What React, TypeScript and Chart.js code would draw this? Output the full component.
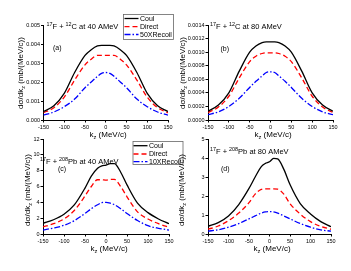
import React, { useEffect, useRef } from 'react';
import { Chart, registerables } from 'chart.js';
Chart.register(...registerables);

// ---- data ----
const kz = [-150, -125, -100, -75, -50, -35, -20, -10, 0, 10, 20, 35, 50, 75, 100, 125, 150];

const coulA = [0.00045, 0.00075, 0.0014, 0.0025, 0.0034, 0.0037, 0.0039, 0.00393, 0.00393, 0.00393, 0.0039, 0.0037, 0.0034, 0.0025, 0.0014, 0.00075, 0.00045];
const directA = [0.00038, 0.00065, 0.0012, 0.0021, 0.0029, 0.0032, 0.0034, 0.0034, 0.0034, 0.0034, 0.0034, 0.0032, 0.0029, 0.0021, 0.0012, 0.00065, 0.00038];
const recoilA = [0.00026, 0.00042, 0.0007, 0.0011, 0.0017, 0.002, 0.0023, 0.00245, 0.0025, 0.00245, 0.0023, 0.002, 0.0017, 0.0011, 0.0007, 0.00042, 0.00026];

const coulB = [0.00013, 0.00022, 0.0004, 0.00072, 0.001, 0.00109, 0.00114, 0.00115, 0.00115, 0.00115, 0.00114, 0.00109, 0.001, 0.00072, 0.0004, 0.00022, 0.00013];
const directB = [0.00011, 0.00019, 0.00035, 0.00062, 0.00086, 0.00094, 0.00098, 0.00099, 0.00099, 0.00099, 0.00098, 0.00094, 0.00086, 0.00062, 0.00035, 0.00019, 0.00011];
const recoilB = [0.00008, 0.00012, 0.0002, 0.00032, 0.00048, 0.00057, 0.00065, 0.0007, 0.00071, 0.0007, 0.00065, 0.00057, 0.00048, 0.00032, 0.0002, 0.00012, 0.00008];

const coulC = [1.35, 1.8, 2.5, 3.7, 5.8, 7.3, 8.3, 8.6, 8.7, 8.9, 8.9, 7.8, 6.2, 3.9, 2.7, 1.9, 1.3];
const directC = [0.9, 1.3, 1.9, 3.0, 4.8, 6.0, 6.85, 6.85, 6.8, 6.9, 6.9, 6.0, 4.7, 2.8, 1.9, 1.3, 0.85];
const recoilC = [0.5, 0.75, 1.1, 1.7, 2.6, 3.2, 3.7, 3.95, 4.0, 3.9, 3.7, 3.2, 2.6, 1.7, 1.05, 0.72, 0.5];

const coulD = [0.4, 0.6, 0.95, 1.55, 2.4, 3.0, 3.55, 3.72, 3.8, 3.98, 3.95, 3.4, 2.6, 1.6, 1.05, 0.65, 0.38];
const directD = [0.25, 0.42, 0.7, 1.1, 1.65, 2.1, 2.35, 2.38, 2.38, 2.38, 2.36, 2.1, 1.6, 1.05, 0.65, 0.4, 0.25];
const recoilD = [0.15, 0.22, 0.36, 0.55, 0.8, 0.95, 1.1, 1.16, 1.18, 1.16, 1.1, 0.95, 0.8, 0.55, 0.36, 0.22, 0.15];

const seriesNames = ['Coul', 'Direct'];
const recoilNameA = '50XRecoil';
const recoilNameC = '10XRecoil';

const FONT = '"Liberation Sans", Arial, sans-serif';
const W = 351;
const H = 271;
const Y_BOX = 26; // width reserved for y-axis tick labels
const X_BOX = 10; // height reserved for x-axis tick labels

type Seg = { t: string; s?: 'sup' | 'sub' };

function drawRich(ctx: CanvasRenderingContext2D, segs: Seg[], x: number, y: number, size: number, align: 'left' | 'center') {
  let w = 0;
  for (const s of segs) {
    ctx.font = `${s.s ? size * 0.72 : size}px ${FONT}`;
    w += ctx.measureText(s.t).width;
  }
  let cx = align === 'center' ? x - w / 2 : x;
  ctx.textAlign = 'left';
  ctx.textBaseline = 'alphabetic';
  ctx.fillStyle = '#000';
  for (const s of segs) {
    ctx.font = `${s.s ? size * 0.72 : size}px ${FONT}`;
    const dy = s.s === 'sup' ? -size * 0.4 : s.s === 'sub' ? size * 0.28 : 0;
    ctx.fillText(s.t, cx, y + dy);
    cx += ctx.measureText(s.t).width;
  }
}

const styles = [
  { color: '#000000', dash: [] as number[] },
  { color: '#ff0000', dash: [5, 3] },
  { color: '#0000ff', dash: [6, 2, 1.5, 2] },
];

type Panel = {
  l: number; t: number; r: number; b: number;
  yMax: number; yStep: number; yDec: number;
  series: number[][];
  title: Seg[]; titleX: number; titleY: number;
  label: string; labelX: number; labelY: number;
  yTitleX: number; yTitleY: number;
  xTitleX: number; xTitleY: number;
  legend?: { x: number; y: number; w: number; h: number; rowY: number[]; lx1: number; lx2: number; tx: number; recoil: string };
};

const panels: Panel[] = [
  {
    l: 43.5, t: 25, r: 168, b: 120, yMax: 0.005, yStep: 0.001, yDec: 3,
    series: [coulA, directA, recoilA],
    title: [{ t: '17', s: 'sup' }, { t: 'F + ' }, { t: '12', s: 'sup' }, { t: 'C at 40 AMeV' }], titleX: 46.5, titleY: 28.5,
    label: '(a)', labelX: 53, labelY: 50,
    yTitleX: 23, yTitleY: 73, xTitleX: 108, xTitleY: 137,
    legend: { x: 123, y: 14, w: 50, h: 25, rowY: [18.5, 26.7, 34.5], lx1: 124.5, lx2: 138.5, tx: 140, recoil: recoilNameA },
  },
  {
    l: 208, t: 25, r: 333, b: 120, yMax: 0.0014, yStep: 0.0002, yDec: 4,
    series: [coulB, directB, recoilB],
    title: [{ t: '17', s: 'sup' }, { t: 'F + ' }, { t: '12', s: 'sup' }, { t: 'C at 80 AMeV' }], titleX: 210, titleY: 28.5,
    label: '(b)', labelX: 220.5, labelY: 50.5,
    yTitleX: 184.5, yTitleY: 73, xTitleX: 273, xTitleY: 137,
  },
  {
    l: 43, t: 139, r: 169, b: 234, yMax: 12, yStep: 2, yDec: 0,
    series: [coulC, directC, recoilC],
    title: [{ t: '17', s: 'sup' }, { t: 'F + ' }, { t: '208', s: 'sup' }, { t: 'Pb at 40 AMeV' }], titleX: 40, titleY: 163.5,
    label: '(c)', labelX: 58, labelY: 170.5,
    yTitleX: 30, yTitleY: 190, xTitleX: 109, xTitleY: 251,
    legend: { x: 132.5, y: 141, w: 50, h: 23, rowY: [145.7, 154, 161.7], lx1: 133.5, lx2: 147.5, tx: 149, recoil: recoilNameC },
  },
  {
    l: 208, t: 139, r: 331, b: 234, yMax: 5, yStep: 1, yDec: 0,
    series: [coulD, directD, recoilD],
    title: [{ t: '17', s: 'sup' }, { t: 'F + ' }, { t: '208', s: 'sup' }, { t: 'Pb at 80 AMeV' }], titleX: 210, titleY: 153.5,
    label: '(d)', labelX: 221, labelY: 170.5,
    yTitleX: 183.5, yTitleY: 190, xTitleX: 272, xTitleY: 251,
  },
];

function makeChart(canvas: HTMLCanvasElement, p: Panel) {
  const annot = {
    id: 'annot',
    afterDraw(chart: any) {
      const ctx: CanvasRenderingContext2D = chart.ctx;
      ctx.save();
      drawRich(ctx, p.title, p.titleX, p.titleY, 7.5, 'left');
      drawRich(ctx, [{ t: p.label }], p.labelX, p.labelY, 7, 'left');
      drawRich(ctx, [{ t: 'k' }, { t: 'z', s: 'sub' }, { t: ' (MeV/c)' }], p.xTitleX, p.xTitleY, 8, 'center');
      ctx.save();
      ctx.translate(p.yTitleX, p.yTitleY);
      ctx.rotate(-Math.PI / 2);
      drawRich(ctx, [{ t: 'd\u03C3/dk' }, { t: 'z', s: 'sub' }, { t: ' (mb/(MeV/c))' }], 0, 0, 8, 'center');
      ctx.restore();
      if (p.legend) {
        const lg = p.legend;
        ctx.fillStyle = '#ffffff';
        ctx.fillRect(lg.x, lg.y, lg.w, lg.h);
        ctx.strokeStyle = '#666';
        ctx.lineWidth = 0.8;
        ctx.setLineDash([]);
        ctx.strokeRect(lg.x + 0.5, lg.y + 0.5, lg.w, lg.h);
        const names = [seriesNames[0], seriesNames[1], lg.recoil];
        names.forEach((n, i) => {
          ctx.strokeStyle = styles[i].color;
          ctx.lineWidth = 1.3;
          ctx.setLineDash(styles[i].dash);
          ctx.beginPath();
          ctx.moveTo(lg.lx1, lg.rowY[i]);
          ctx.lineTo(lg.lx2, lg.rowY[i]);
          ctx.stroke();
          ctx.setLineDash([]);
          ctx.fillStyle = '#000';
          ctx.font = `7px ${FONT}`;
          ctx.textBaseline = 'middle';
          ctx.textAlign = 'left';
          ctx.fillText(n, lg.tx, lg.rowY[i] + 0.5);
        });
      }
      ctx.restore();
    },
  };

  return new Chart(canvas, {
    type: 'line',
    data: {
      datasets: p.series.map((s, i) => ({
        label: i < 2 ? seriesNames[i] : 'Recoil',
        data: kz.map((k, j) => ({ x: k, y: s[j] })),
        borderColor: styles[i].color,
        borderDash: styles[i].dash,
        borderWidth: 1.3,
        pointRadius: 0,
        fill: false,
        cubicInterpolationMode: 'monotone' as const,
      })),
    },
    options: {
      responsive: false,
      animation: false,
      events: [],
      layout: { padding: { left: p.l - Y_BOX, top: p.t, right: W - p.r, bottom: H - p.b - X_BOX } },
      plugins: { legend: { display: false }, tooltip: { enabled: false }, title: { display: false } },
      scales: {
        x: {
          type: 'linear', min: -150, max: 150,
          afterFit: (s: any) => { s.height = X_BOX; },
          border: { display: true, color: '#000', width: 1 },
          grid: { drawOnChartArea: false, drawTicks: true, tickLength: 2.5, color: '#000' },
          ticks: { stepSize: 50, padding: 1.5, color: '#000', font: { family: FONT, size: 5.5 }, maxRotation: 0, autoSkip: false },
        },
        y: {
          type: 'linear', min: 0, max: p.yMax,
          afterFit: (s: any) => { s.width = Y_BOX; },
          border: { display: true, color: '#000', width: 1 },
          grid: { drawOnChartArea: false, drawTicks: true, tickLength: 2.5, color: '#000' },
          ticks: {
            stepSize: p.yStep, padding: 1, color: '#000', font: { family: FONT, size: 5.5 }, autoSkip: false,
            callback: (v: any) => Number(v).toFixed(p.yDec),
          },
        },
      },
    } as any,
    plugins: [annot],
  });
}

export default function App() {
  const refs = [useRef<HTMLCanvasElement>(null), useRef<HTMLCanvasElement>(null), useRef<HTMLCanvasElement>(null), useRef<HTMLCanvasElement>(null)];
  useEffect(() => {
    const charts = panels.map((p, i) => makeChart(refs[i].current as HTMLCanvasElement, p));
    return () => charts.forEach((c) => c.destroy());
  }, []);
  return (
    <div style={{ position: 'fixed', left: 0, top: 0, width: W, height: H, background: '#fff' }}>
      {refs.map((r, i) => (
        <canvas key={i} ref={r} width={W} height={H} style={{ position: 'absolute', left: 0, top: 0 }} />
      ))}
    </div>
  );
}
